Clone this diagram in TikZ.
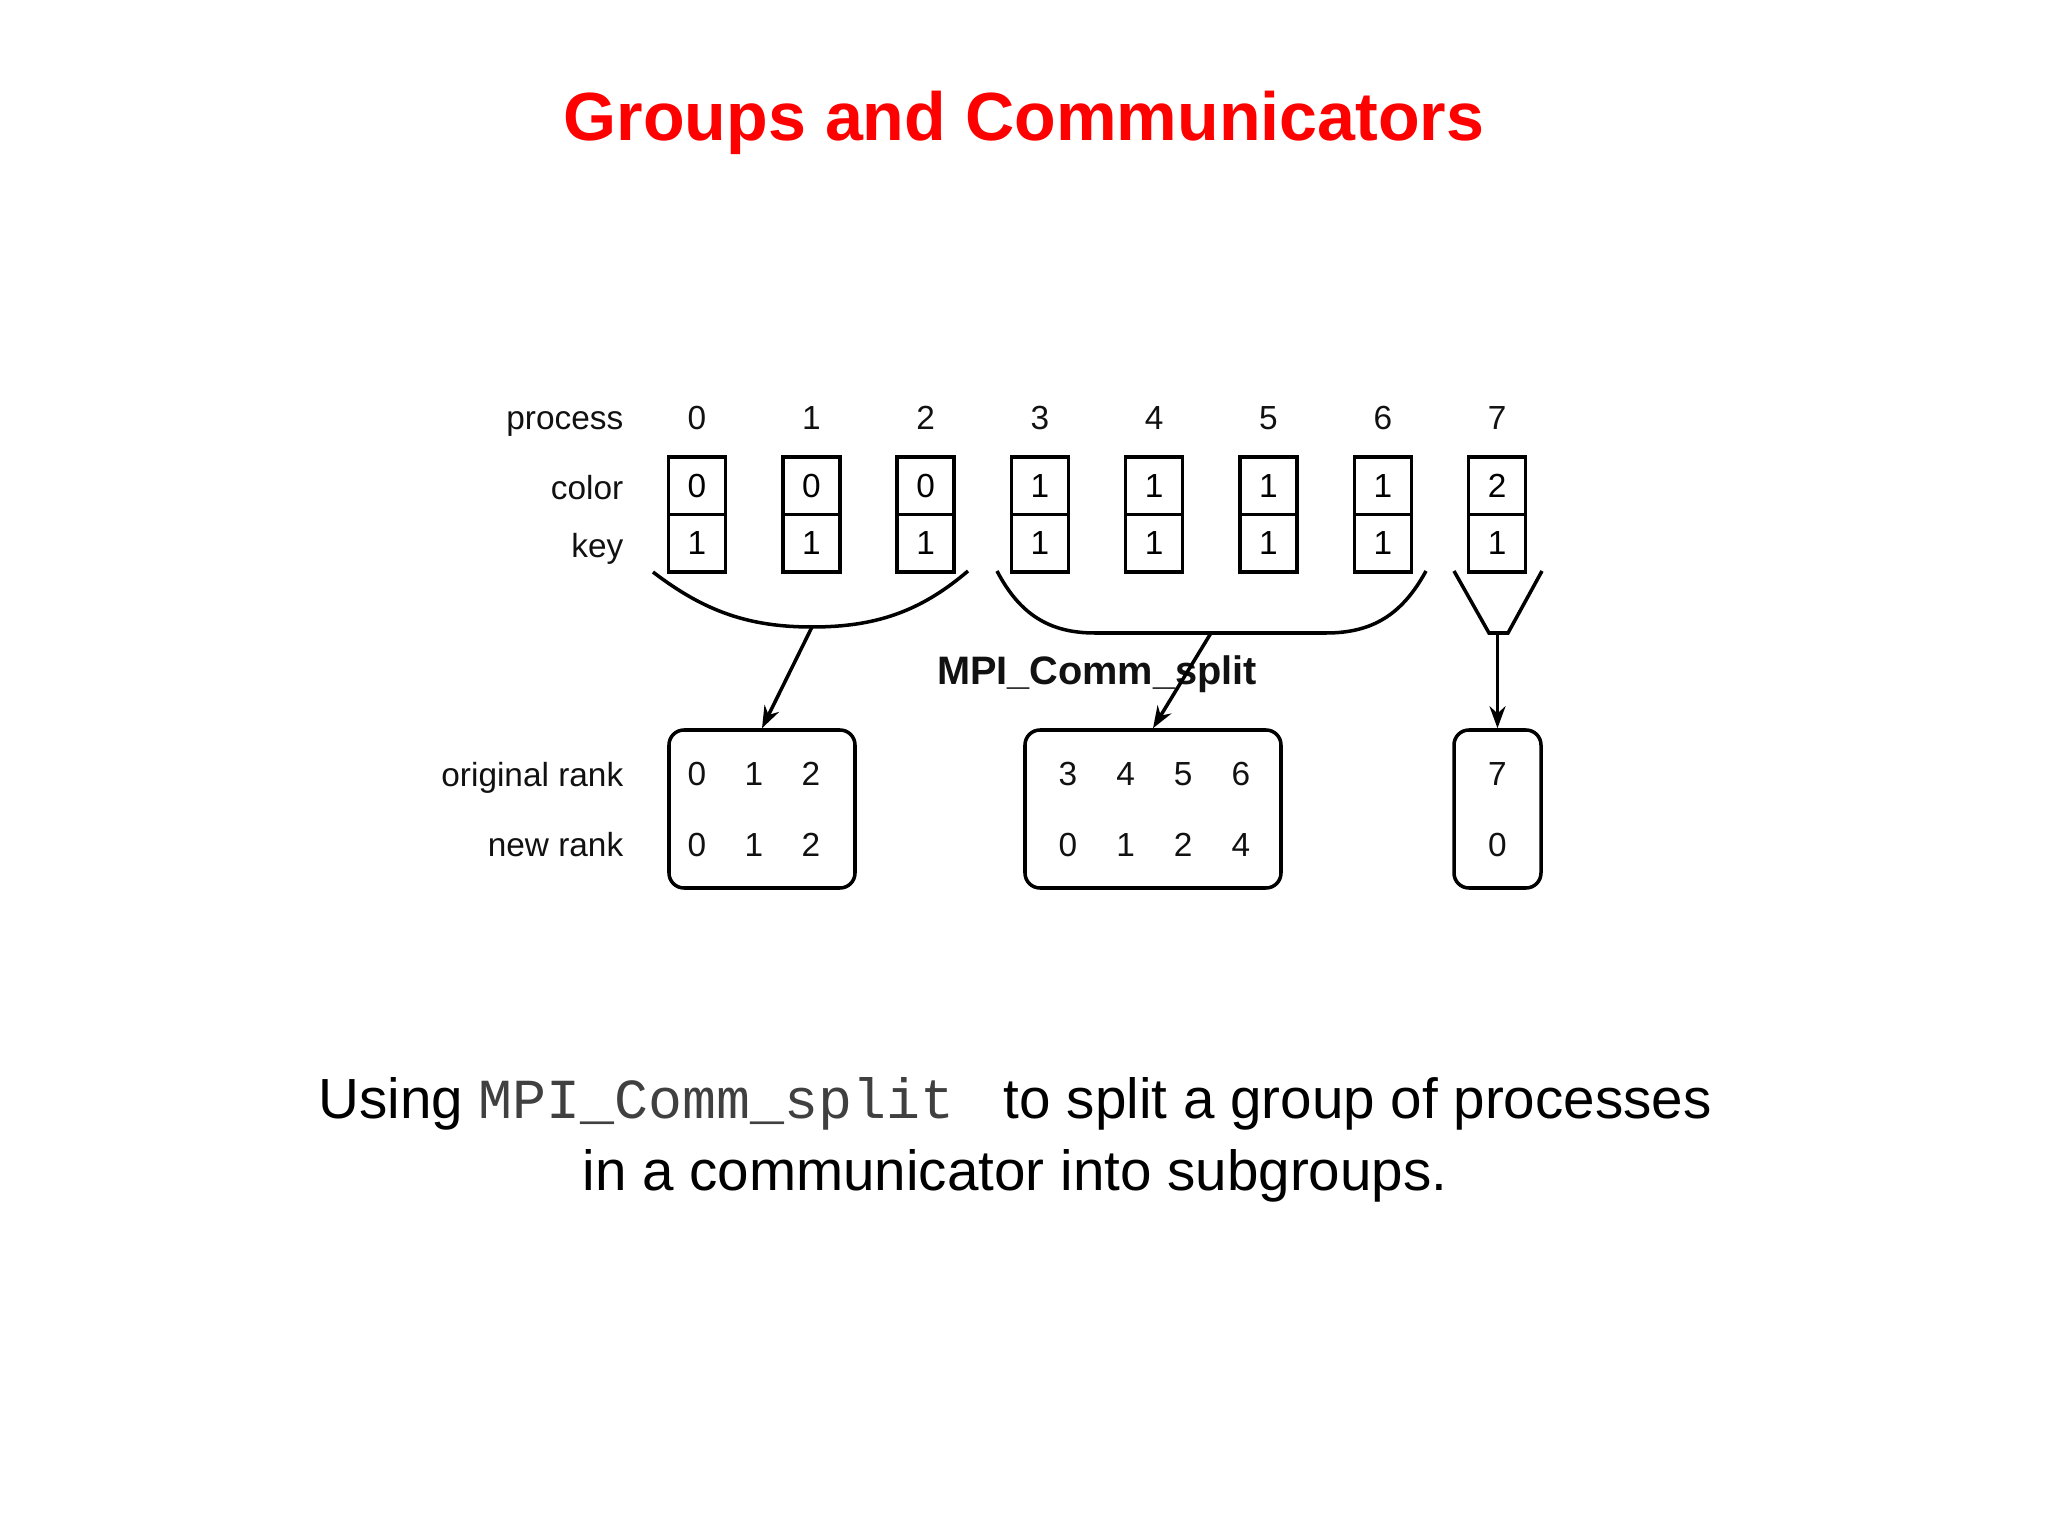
\documentclass[tikz,border=0pt]{standalone}
\usepackage{fontspec}
\setmainfont{Liberation Sans}
\setsansfont{Liberation Sans}
\setmonofont{Liberation Mono}
\usetikzlibrary{arrows.meta, calc}
\definecolor{titlered}{HTML}{FF0000}
\definecolor{ink}{HTML}{111111}
\definecolor{codegray}{HTML}{404040}
\tikzset{
  cell/.style={draw, line width=1pt, minimum width=0.57cm, minimum height=0.575cm, inner sep=0pt},
  group/.style={draw, line width=1pt, rounded corners=0.15cm, minimum height=1.58cm, inner sep=0pt},
  brace/.style={line width=1pt},
  split/.style={-{Stealth[length=2.2mm, width=1.6mm]}, line width=1pt},
  lbl/.style={anchor=base east, inner sep=0pt, text=ink},
  every node/.append style={font=\fontsize{9.5}{11}\selectfont}
}

\begin{document}
\begin{tikzpicture}
\useasboundingbox (0,0) rectangle (20.48,-15.36);
\node[font=\fontsize{19.4}{23}\selectfont\bfseries, text=titlered] (title) at (10.24,-1.23) {Groups and Communicators};

\node[lbl] (lproc) at (6.24,-4.30) {process};
\node[lbl] (lcolor) at (6.24,-5.00) {color};
\node[lbl] (lkey) at (6.24,-5.58) {key};
\foreach \i/\c in {0/0,1/0,2/0,3/1,4/1,5/1,6/1,7/2} {
  \node[text=ink] (p\i) at ({6.97+1.143*\i},-4.18) {\i};
  \node[cell] (c\i) at ({6.97+1.143*\i},-4.8575) {\c};
  \node[cell] (k\i) at ({6.97+1.143*\i},-5.4325) {1};
}

\coordinate (b1l) at (6.53,-5.72);
\coordinate (b1m) at (8.12,-6.27);
\coordinate (b1r) at (9.68,-5.71);
\draw[brace] (b1l) .. controls (7.05,-6.12) and (7.5,-6.27) .. (b1m)
  .. controls (8.75,-6.27) and (9.2,-6.12) .. (b1r);
\coordinate (b2l) at (9.97,-5.71);
\coordinate (b2m) at (12.11,-6.33);
\coordinate (b2r) at (14.26,-5.71);
\draw[brace] (b2l) .. controls (10.2,-6.15) and (10.5,-6.33) .. (10.95,-6.33)
  -- (13.26,-6.33) .. controls (13.72,-6.33) and (14.02,-6.15) .. (b2r);
\coordinate (b3m) at (14.975,-6.33);
\draw[brace] (14.54,-5.71) -- (14.89,-6.33) -- (15.08,-6.33) -- (15.42,-5.71);

\node[font=\fontsize{11.3}{13}\selectfont\bfseries, text=ink] (fn) at (10.97,-6.74) {MPI\_Comm\_split};

\node[group, minimum width=1.86cm] (g1) at (7.62,-8.09) {};
\node[group, minimum width=2.56cm] (g2) at (11.53,-8.09) {};
\node[group, minimum width=0.87cm] (g3) at (14.975,-8.09) {};

\draw[split] (b1m) -- (g1.north);
\draw[split] (b2m) -- (g2.north);
\draw[split] (b3m) -- (g3.north);

\node[lbl] (lorig) at (6.24,-7.86) {original rank};
\node[lbl] (lnew) at (6.24,-8.57) {new rank};
\foreach \o/\n [count=\j from 0] in {0/0,1/1,2/2} {
  \node[text=ink] (o\o) at ({6.97+0.57*\j},-7.74) {\o};
  \node[text=ink] (n\o) at ({6.97+0.57*\j},-8.45) {\n};
}
\foreach \o/\n [count=\j from 0] in {3/0,4/1,5/2,6/4} {
  \node[text=ink] (o\o) at ({10.68+0.576*\j},-7.74) {\o};
  \node[text=ink] (n\o) at ({10.68+0.576*\j},-8.45) {\n};
}
\node[text=ink] (o7) at (14.975,-7.74) {7};
\node[text=ink] (n7) at (14.975,-8.45) {0};

\node[font=\fontsize{16.1}{20.5}\selectfont, align=center] (caption) at (10.15,-11.40)
  {Using {\ttfamily\color{codegray}MPI\_Comm\_split }\ to split a group of processes\\
   in a communicator into subgroups.};
\end{tikzpicture}
\end{document}
